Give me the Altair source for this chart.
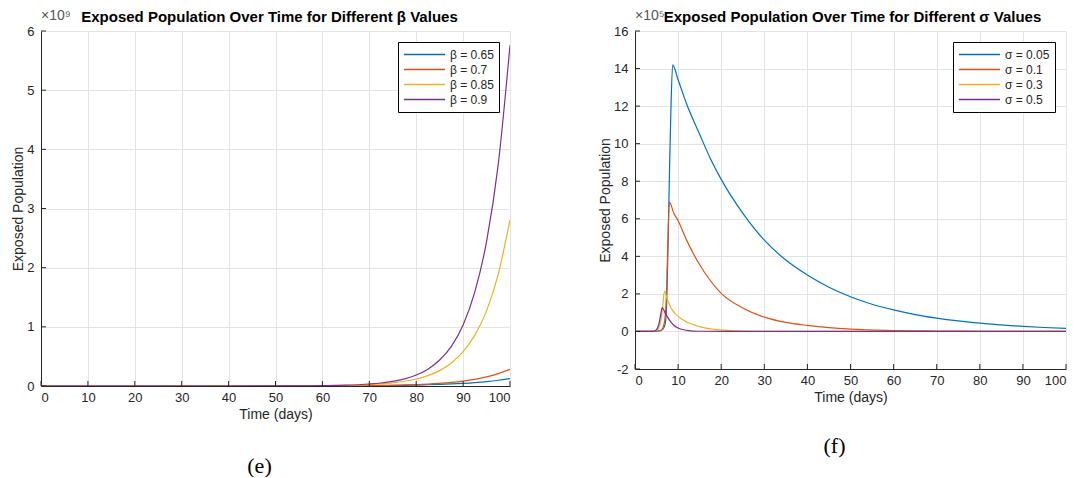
import altair as alt
import pandas as pd

# ---------------- data: panel (e), exposed population (x 1e9) ----------------
beta_labels = ["β = 0.65", "β = 0.7", "β = 0.85", "β = 0.9"]
t_beta = [0, 10, 20, 30, 40, 50, 55, 60, 65, 70, 72.5, 75, 77.5, 80, 82.5, 85,
          87.5, 90, 92.5, 95, 97.5, 100]
beta_065 = [0, 0, 0, 0, 0.0002, 0.0007, 0.0012, 0.002, 0.0034, 0.0056, 0.0073, 0.0095,
            0.012, 0.016, 0.021, 0.027, 0.035, 0.045, 0.058, 0.075, 0.097, 0.125]
beta_07 = [0, 0, 0, 0, 0.0002, 0.0005, 0.001, 0.002, 0.004, 0.007, 0.0095, 0.013,
           0.018, 0.024, 0.033, 0.045, 0.061, 0.083, 0.113, 0.155, 0.21, 0.28]
beta_085 = [0, 0, 0, 0, 0.0002, 0.001, 0.002, 0.005, 0.011, 0.024, 0.036, 0.054,
            0.08, 0.118, 0.175, 0.26, 0.39, 0.58, 0.86, 1.27, 1.89, 2.81]
beta_09 = [0, 0, 0, 0, 0.0002, 0.001, 0.0025, 0.006, 0.014, 0.034, 0.051, 0.079,
           0.121, 0.186, 0.285, 0.44, 0.67, 1.03, 1.59, 2.44, 3.75, 5.76]

# ---------------- data: panel (f), exposed population (x 1e5) ----------------
sigma_labels = ["σ = 0.05", "σ = 0.1", "σ = 0.3", "σ = 0.5"]
t_s005 = [0, 5, 6, 6.5, 7, 7.35, 7.7, 8.0, 8.3, 8.74, 10, 12, 15, 17.5, 20, 25, 30,
          35, 40, 45, 50, 55, 60, 65, 70, 75, 80, 85, 90, 95, 100]
s005 = [0, 0.01, 0.05, 0.12, 0.4, 1.5, 5.0, 8.5, 11.5, 14.2, 13.4, 12.1, 10.5, 9.2,
        8.1, 6.3, 4.86, 3.8, 3.0, 2.35, 1.85, 1.45, 1.15, 0.9, 0.71, 0.56, 0.44,
        0.35, 0.27, 0.21, 0.16]
t_s01 = [0, 5, 6, 6.5, 7, 7.3, 7.6, 7.97, 9, 10, 12, 15, 17.5, 20, 25, 30, 35, 40,
         45, 50, 60, 70, 80, 90, 100]
s01 = [0, 0.01, 0.05, 0.2, 0.8, 2.0, 4.5, 6.9, 6.3, 5.9, 4.85, 3.55, 2.7, 2.03, 1.25,
       0.76, 0.48, 0.32, 0.2, 0.12, 0.05, 0.02, 0.01, 0.005, 0]
t_s03 = [0, 4, 5, 5.5, 6, 6.4, 6.85, 7.5, 8.4, 10, 12, 15, 17.5, 20, 25, 30, 40, 100]
s03 = [0, 0.01, 0.05, 0.2, 0.6, 1.3, 2.15, 1.7, 1.23, 0.8, 0.5, 0.26, 0.14, 0.08,
       0.02, 0.005, 0, 0]
t_s05 = [0, 4, 4.5, 5, 5.5, 6, 6.3, 7, 8, 9, 10, 12, 15, 20, 100]
s05 = [0, 0.005, 0.02, 0.1, 0.35, 0.95, 1.27, 0.98, 0.6, 0.33, 0.18, 0.06, 0.01, 0, 0]

x_ticks = [0, 10, 20, 30, 40, 50, 60, 70, 80, 90, 100]
y_ticks_e = [0, 1, 2, 3, 4, 5, 6]
y_ticks_f = [-2, 0, 2, 4, 6, 8, 10, 12, 14, 16]

COLORS = ["#0072BD", "#D95319", "#EDB120", "#7E2F8E"]
FONT = "Liberation Sans"
TXT = "#262626"

df_e = pd.concat([
    pd.DataFrame({"t": t_beta, "v": vals, "s": lab, "o": i})
    for i, (lab, vals) in enumerate(zip(beta_labels, [beta_065, beta_07, beta_085, beta_09]))
])
df_f = pd.concat([
    pd.DataFrame({"t": tt, "v": vals, "s": lab, "o": i})
    for i, (lab, tt, vals) in enumerate(zip(sigma_labels, [t_s005, t_s01, t_s03, t_s05],
                                             [s005, s01, s03, s05]))
])


def panel(df, labels, ydom, yticks, W, H, title, exp_text, caption, cap_dy, title_dx):
    xs = alt.Scale(domain=[0, 100], nice=False, zero=False)
    ys = alt.Scale(domain=ydom, nice=False, zero=False)
    xaxis = alt.Axis(values=x_ticks, title="Time (days)", grid=True, ticks=False,
                     labelPadding=5, titlePadding=3, labelExpr="'' + datum.value",
                     labelOverlap=False)
    yaxis = alt.Axis(values=yticks, title="Exposed Population", grid=True, ticks=False,
                     labelPadding=7, titlePadding=1, labelExpr="'' + datum.value",
                     labelOverlap=False)
    lines = alt.Chart(df).mark_line(strokeWidth=1.2, clip=True, interpolate="monotone").encode(
        x=alt.X("t:Q", scale=xs, axis=xaxis),
        y=alt.Y("v:Q", scale=ys, axis=yaxis),
        color=alt.Color("s:N", scale=alt.Scale(domain=labels, range=COLORS),
                        legend=alt.Legend(title=None, orient="top-right", offset=11,
                                          strokeColor="#000000", fillColor="white",
                                          padding=5, symbolType="stroke",
                                          symbolSize=1700, symbolStrokeWidth=1.5,
                                          labelFont=FONT, labelFontSize=12,
                                          labelColor=TXT, rowPadding=0, clipHeight=15,
                                          labelOffset=4, symbolOffset=0)),
        order="o:Q",
    )
    xt = alt.Chart(pd.DataFrame({"t": x_ticks})).mark_rule(color=TXT, strokeWidth=1).encode(
        x=alt.X("t:Q", scale=xs, axis=xaxis), y=alt.value(H), y2=alt.value(H - 5))
    yt = alt.Chart(pd.DataFrame({"v": yticks})).mark_rule(color=TXT, strokeWidth=1).encode(
        y=alt.Y("v:Q", scale=ys, axis=yaxis), x=alt.value(0), x2=alt.value(5))
    exp = alt.Chart(pd.DataFrame({"txt": [exp_text]})).mark_text(
        align="left", baseline="alphabetic", font=FONT, fontSize=14, color="#555555"
    ).encode(text="txt:N", x=alt.value(0), y=alt.value(-11))
    ttl = alt.Chart(pd.DataFrame({"txt": [title]})).mark_text(
        align="center", baseline="alphabetic", font=FONT, fontSize=15, fontWeight="bold",
        color="#000000"
    ).encode(text="txt:N", x=alt.value(W / 2 + title_dx), y=alt.value(-9))
    cap = alt.Chart(pd.DataFrame({"txt": [caption]})).mark_text(
        align="center", baseline="middle", font="Liberation Serif", fontSize=22,
        color="#000000"
    ).encode(text="txt:N", x=alt.value(W / 2 - 16), y=alt.value(H + cap_dy))
    return alt.layer(lines, xt, yt, exp, ttl, cap).properties(width=W, height=H)


left = panel(df_e, beta_labels, [0, 6], y_ticks_e, 469, 355,
             "Exposed Population Over Time for Different β Values", "×10⁹", "(e)", 80, -6)
right = panel(df_f, sigma_labels, [-2, 16], y_ticks_f, 431, 338,
              "Exposed Population Over Time for Different σ Values", "×10⁵", "(f)", 77, 2)

chart = alt.hconcat(left, right, spacing=87).resolve_scale(
    color="independent"
).configure(
    padding={"left": 11, "top": 9, "right": 5, "bottom": 0}, background="white"
).configure_axis(
    labelFont=FONT, titleFont=FONT, labelFontSize=13, titleFontSize=14,
    titleFontWeight="normal", labelOverlap=False,
    labelColor=TXT, titleColor=TXT, domainColor=TXT, domainWidth=1,
    gridColor="#e3e3e3", gridWidth=1,
).configure_view(stroke=None)

chart.save("out.html", embed_options={"renderer": "svg", "actions": False})
